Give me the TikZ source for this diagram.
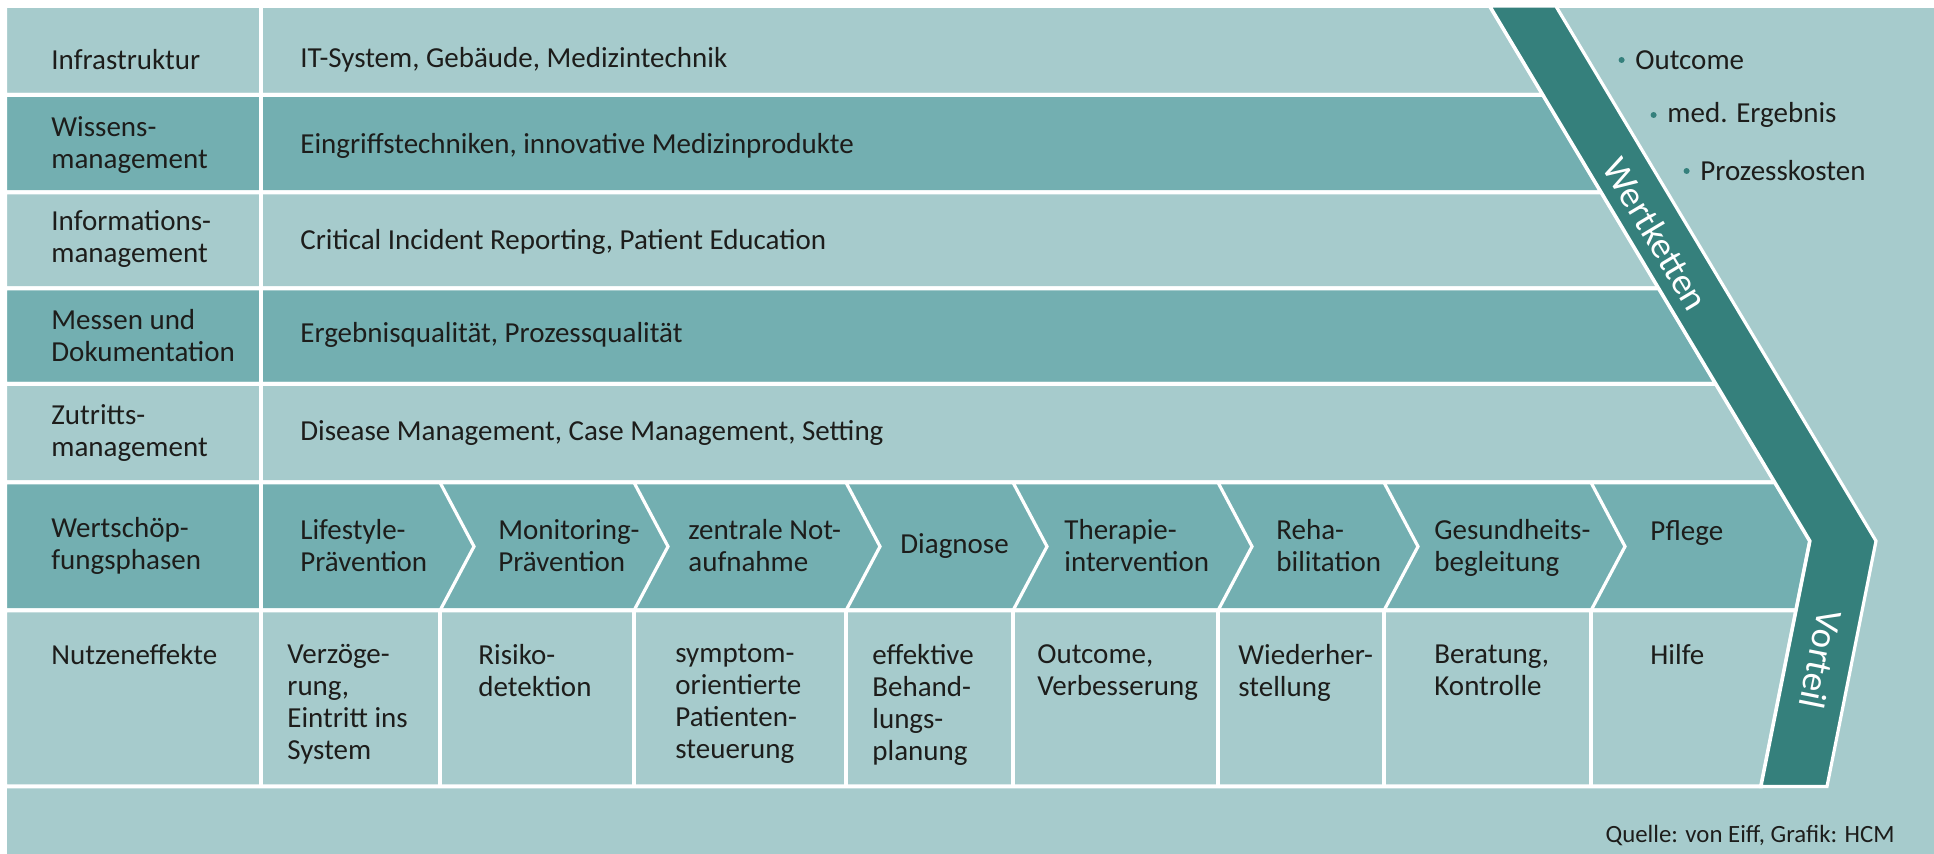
\documentclass[tikz,border=0pt]{standalone}
\usepackage{fontspec}
\setmainfont{Carlito}
\usetikzlibrary{positioning,calc}
\definecolor{light_color}{RGB}{166,203,204}
\definecolor{mid_color}{RGB}{115,175,177}
\definecolor{band_color}{RGB}{53,128,124}
\definecolor{text_color}{RGB}{29,29,27}
\tikzset{
  cell/.style={draw=white, line width=2pt},
  chevline/.style={draw=white, line width=1.6pt},
  rowlabel/.style={
    anchor=west, align=left, inner sep=0pt, text=text_color,
    font=\fontsize{14.5}{16}\selectfont
  },
  effect/.style={rowlabel, anchor=north west},
  band/.style={fill=band_color, draw=white, line width=1.6pt},
  bandtext/.style={text=white, inner sep=0pt, font=\fontsize{18.5}{21}\selectfont},
  listdot/.style={circle, fill=band_color, inner sep=0pt, minimum size=3pt},
  source/.style={anchor=east, inner sep=0pt, text=text_color, font=\fontsize{12.4}{14}\selectfont}
}

\begin{document}
\begin{tikzpicture}[x=0.5pt, y=-0.5pt]
\useasboundingbox (0,0) rectangle (1934,854);
\fill[light_color] (7,8) rectangle (1934,854);

\begin{scope}
\clip (7,8) rectangle (1934,854);
% the five rows that run into the band
\path[cell, fill=light_color] (5,6) -- (1489.8,6) -- (1543.1,95) -- (5,95) -- cycle;
\path[cell, fill=mid_color] (5,95) -- (1543.1,95) -- (1601.4,192.5) -- (5,192.5) -- cycle;
\path[cell, fill=light_color] (5,192.5) -- (1601.4,192.5) -- (1658.9,288.5) -- (5,288.5) -- cycle;
\path[cell, fill=mid_color] (5,288.5) -- (1658.9,288.5) -- (1716.0,384) -- (5,384) -- cycle;
\path[cell, fill=light_color] (5,384) -- (1716.0,384) -- (1775.0,482.5) -- (5,482.5) -- cycle;
% phases and effects
\path[cell, fill=mid_color] (5,482.5) -- (1775.0,482.5) -- (1810,541) -- (1796.1,610.5) -- (5,610.5) -- cycle;
\path[cell, fill=light_color] (5,610.5) -- (1796.1,610.5) -- (1761,786.5) -- (5,786.5) -- cycle;
\draw[cell] (261,6) -- (261,786.5);
\foreach \x in {440,634,846,1013,1218,1384,1591} {
  \draw[chevline] (\x,482.5) -- (\x+34,546.5) -- (\x,610.5);
  \draw[cell] (\x,610.5) -- (\x,786.5);
}
% value chain band
\draw[band] (1489.8,6) -- (1555.8,6) -- (1876,541) -- (1827,786.5) -- (1761,786.5) -- (1810,541) -- cycle;
\end{scope}

\node[bandtext, rotate=-59.1] (wertketten) at (1656,234) {Wertketten};
\node[bandtext, rotate=-101.3] (vorteil) at (1821,660) {Vorteil};

% left column
\node[rowlabel] (infra) at (51,60) {Infrastruktur};
\node[rowlabel] (wissen) at (51,145) {Wissens-\\management};
\node[rowlabel] (info) at (51,239) {Informations-\\management};
\node[rowlabel] (messen) at (51,336) {Messen und\\Dokumentation};
\node[rowlabel] (zutritt) at (51,433) {Zutritts-\\management};
\node[rowlabel] (phasen) at (51,546) {Wertschöp-\\fungsphasen};
\node[effect] (nutzen) at (51,644) {Nutzeneffekte};

% row contents
\node[rowlabel] (infra_txt) at (300,60) {IT-System, Gebäude, Medizintechnik};
\node[rowlabel] (wissen_txt) at (300,146) {Eingriffstechniken, innovative Medizinprodukte};
\node[rowlabel] (info_txt) at (300,242) {Critical Incident Reporting, Patient Education};
\node[rowlabel] (messen_txt) at (300,335) {Ergebnisqualität, Prozessqualität};
\node[rowlabel] (zutritt_txt) at (300,433) {Disease Management, Case Management, Setting};

% phases
\node[rowlabel] (phase1) at (300,546) {Lifestyle-\\Prävention};
\node[rowlabel] (phase2) at (498,546) {Monitoring-\\Prävention};
\node[rowlabel] (phase3) at (688,546) {zentrale Not-\\aufnahme};
\node[rowlabel] (phase4) at (900,546) {Diagnose};
\node[rowlabel] (phase5) at (1064,546) {Therapie-\\intervention};
\node[rowlabel] (phase6) at (1276,546) {Reha-\\bilitation};
\node[rowlabel] (phase7) at (1434,548) {Gesundheits-\\begleitung};
\node[rowlabel] (phase8) at (1650,533) {Pflege};

% effects
\node[effect] (effect1) at (287,644) {Verzöge-\\rung,\\Eintritt ins\\System};
\node[effect] (effect2) at (478,644) {Risiko-\\detektion};
\node[effect] (effect3) at (675,644) {symptom-\\orientierte\\Patienten-\\steuerung};
\node[effect] (effect4) at (872,644) {effektive\\Behand-\\lungs-\\planung};
\node[effect] (effect5) at (1037,644) {Outcome,\\Verbesserung};
\node[effect] (effect6) at (1238,644) {Wiederher-\\stellung};
\node[effect] (effect7) at (1434,644) {Beratung,\\Kontrolle};
\node[effect] (effect8) at (1650,644) {Hilfe};

% gains beside the band
\node[rowlabel] (outcome) at (1635,60) {Outcome};
\node[rowlabel] (ergebnis) at (1667,115) {med. Ergebnis};
\node[rowlabel] (kosten) at (1700,171) {Prozesskosten};
\node[listdot, left=5pt of outcome] {};
\node[listdot, left=5pt of ergebnis] {};
\node[listdot, left=5pt of kosten] {};

\node[source] (quelle) at (1895,836) {Quelle: von Eiff, Grafik: HCM};

\end{tikzpicture}
\end{document}
